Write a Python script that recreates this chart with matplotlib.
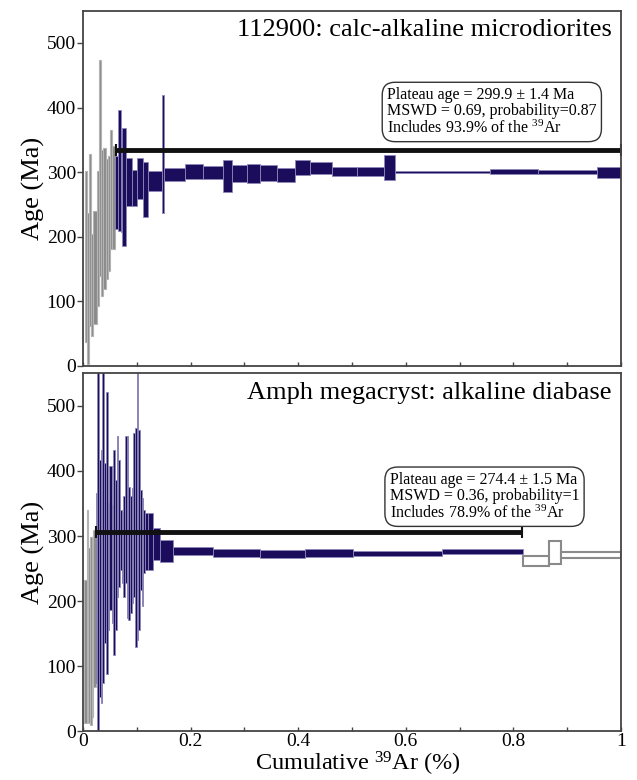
import matplotlib
matplotlib.use("Agg")
import matplotlib.pyplot as plt
from matplotlib.ticker import MultipleLocator, FuncFormatter

plt.rcParams['font.family'] = ['Liberation Serif', 'DejaVu Serif']
plt.rcParams['mathtext.fontset'] = 'custom'
plt.rcParams['mathtext.rm'] = 'Liberation Serif'

NAVY = '#1c0c5c'
NAVY_EDGE = '#8c88b8'
GRAY = '#8a8a8a'
GRAY_EDGE = '#b4b4b4'

# ---- 112900: calc-alkaline microdiorites ----
top_gray_x = [0.003, 0.008, 0.011, 0.0143, 0.019, 0.0254, 0.0297, 0.0335,
              0.0378, 0.0421, 0.0458, 0.0502, 0.0545, 0.0595]
top_gray_lo = [37, 3, 62, 47, 65, 93, 140, 109, 119, 135, 147, 181, 181]
top_gray_hi = [302, 237, 328, 204, 240, 302, 474, 335, 338, 320, 325, 366, 341]

top_x = [0.0595, 0.0657, 0.070, 0.073, 0.079, 0.0905, 0.0998, 0.112, 0.121,
         0.147, 0.151, 0.1896, 0.2237, 0.2608, 0.2763, 0.304, 0.329, 0.361,
         0.394, 0.422, 0.462, 0.510, 0.5595, 0.580, 0.7565, 0.846, 0.955, 1.0]
top_lo = [212, 209, 207, 186, 248, 248, 258, 230, 271, 237, 286, 289, 289,
          269, 285, 283, 286, 285, 295, 297, 294, 294, 288, 298.3, 297.5,
          297.2, 291.6]
top_hi = [325, 397, 366, 369, 322, 304, 322, 315, 302, 420, 307, 312, 309.6,
          319, 310.7, 312, 310.7, 307, 319, 316, 308.6, 308.6, 326.6, 302.4,
          304.3, 303.6, 308.6]
top_plateau = (0.061, 1.0, 334)
top_title = '112900: calc-alkaline microdiorites'
top_box = ['Plateau age = 299.9 \u00b1 1.4 Ma',
           'MSWD = 0.69, probability=0.87',
           r'Includes 93.9% of the $\mathregular{^{39}}$Ar']

# ---- Amph megacryst: alkaline diabase ----
bot_gray_x = [0.0025, 0.0068, 0.0099, 0.013, 0.016, 0.019, 0.0235]
bot_gray_lo = [12.5, 17.7, 12.5, 10, 23, 69]
bot_gray_hi = [233, 340, 281, 299, 268.5, 309.5]

bot_x = [0.0235, 0.0266, 0.0297, 0.0328, 0.0359, 0.0397, 0.0427, 0.0458,
         0.049, 0.0533, 0.0564, 0.0595, 0.0626, 0.0657, 0.0688, 0.0719,
         0.075, 0.0781, 0.0812, 0.0843, 0.0874, 0.0905, 0.0936, 0.0967,
         0.0998, 0.1029, 0.106, 0.1091, 0.1122, 0.1153, 0.1215, 0.1308,
         0.1432, 0.168, 0.242, 0.329, 0.4126, 0.5025, 0.6667, 0.817]
bot_lo = [74, 0, 53.5, 43, 74, 135.5, 89, 156, 186.6, 166, 117.5, 156, 207,
          222.5, 248, 227.6, 207, 227.6, 174, 171, 181.5, 197, 207, 130,
          140.5, 156, 217, 192, 243, 248, 248, 263, 261, 271, 268.5, 266,
          267.5, 270, 272.6]
bot_hi = [366, 560, 417, 432, 560, 412, 522, 350.5, 407, 348, 432, 386, 453,
          417, 340, 337.7, 361, 453, 453, 376, 361, 373.5, 458, 466, 560, 463,
          371, 358, 340, 335, 335, 312, 294, 284, 280, 279, 280, 277, 280]
bot_open_x = [0.817, 0.8668, 0.8885, 1.0]
bot_open_lo = [254, 256.8, 266]
bot_open_hi = [270, 292.6, 275]
bot_plateau = (0.0235, 0.816, 306)
bot_title = 'Amph megacryst: alkaline diabase'
bot_box = ['Plateau age = 274.4 \u00b1 1.5 Ma',
           'MSWD = 0.36, probability=1',
           r'Includes 78.9% of the $\mathregular{^{39}}$Ar']


def draw_steps(ax, edges, lo, hi, fc, ec, lw):
    left = edges[:-1]
    width = [b - a for a, b in zip(edges[:-1], edges[1:])]
    height = [h - l for l, h in zip(lo, hi)]
    ax.bar(left, height, width=width, bottom=lo, align='edge',
           facecolor=fc, edgecolor=ec, linewidth=lw)


def style_axis(ax, show_xlabels):
    ax.set_xlim(0, 1)
    ax.set_ylim(0, 550)
    ax.yaxis.set_major_locator(MultipleLocator(100))
    ax.xaxis.set_major_locator(MultipleLocator(0.2))
    ax.xaxis.set_minor_locator(MultipleLocator(0.1))
    ax.xaxis.set_major_formatter(FuncFormatter(lambda v, p: f'{v:g}'))
    ax.tick_params(axis='y', direction='out', length=4, width=1,
                   labelsize=14, color='#444444', pad=1)
    ax.tick_params(axis='x', which='both', direction='in', length=3,
                   width=1, labelsize=14, color='#444444', top=False, pad=1)
    if not show_xlabels:
        ax.tick_params(axis='x', labelbottom=False)
    for s in ax.spines.values():
        s.set_color('#444444')
        s.set_linewidth(1.3)
    ax.set_ylabel('Age (Ma)', fontsize=19, labelpad=1)


fig = plt.figure(figsize=(6.37, 7.80), dpi=100)
ax1 = fig.add_axes([0.1303, 0.5308, 0.8447, 0.4555])
ax2 = fig.add_axes([0.1303, 0.0622, 0.8447, 0.4592])

# top panel
draw_steps(ax1, top_gray_x, top_gray_lo, top_gray_hi, GRAY, GRAY_EDGE, 0.8)
draw_steps(ax1, top_x, top_lo, top_hi, NAVY, NAVY_EDGE, 0.6)
x0, x1, yp = top_plateau
ax1.plot([x0, x1], [yp, yp], color='#111111', lw=3.5, solid_capstyle='butt')
ax1.plot([x0, x1], [yp, yp], ls='none', marker='|', ms=9, mew=1.5, color='#111111')
style_axis(ax1, False)
ax1.text(0.983, 0.946, top_title, transform=ax1.transAxes, ha='right',
         va='center', fontsize=19)
ax1.text(0.565, 0.785, '\n'.join(top_box), transform=ax1.transAxes,
         ha='left', va='top', fontsize=11.5, linespacing=1.02,
         bbox=dict(boxstyle='round,pad=0.3,rounding_size=0.8',
                   facecolor='white', edgecolor='#333333', lw=1))

# bottom panel
draw_steps(ax2, bot_gray_x, bot_gray_lo, bot_gray_hi, GRAY, GRAY_EDGE, 0.8)
draw_steps(ax2, bot_x, bot_lo, bot_hi, NAVY, NAVY_EDGE, 0.6)
draw_steps(ax2, bot_open_x, bot_open_lo, bot_open_hi, 'white', GRAY, 1.5)
x0, x1, yp = bot_plateau
ax2.plot([x0, x1], [yp, yp], color='#111111', lw=3.5, solid_capstyle='butt')
ax2.plot([x0, x1], [yp, yp], ls='none', marker='|', ms=9, mew=1.5, color='#111111')
style_axis(ax2, True)
ax2.text(0.983, 0.945, bot_title, transform=ax2.transAxes, ha='right',
         va='center', fontsize=19)
ax2.text(0.570, 0.725, '\n'.join(bot_box), transform=ax2.transAxes,
         ha='left', va='top', fontsize=11.5, linespacing=1.02,
         bbox=dict(boxstyle='round,pad=0.3,rounding_size=0.8',
                   facecolor='white', edgecolor='#333333', lw=1))

fig.text(0.562, 0.002, r'Cumulative $\mathregular{^{39}}$Ar (%)', fontsize=17.5,
         ha='center', va='bottom')

fig.savefig('out.png', dpi=100)
